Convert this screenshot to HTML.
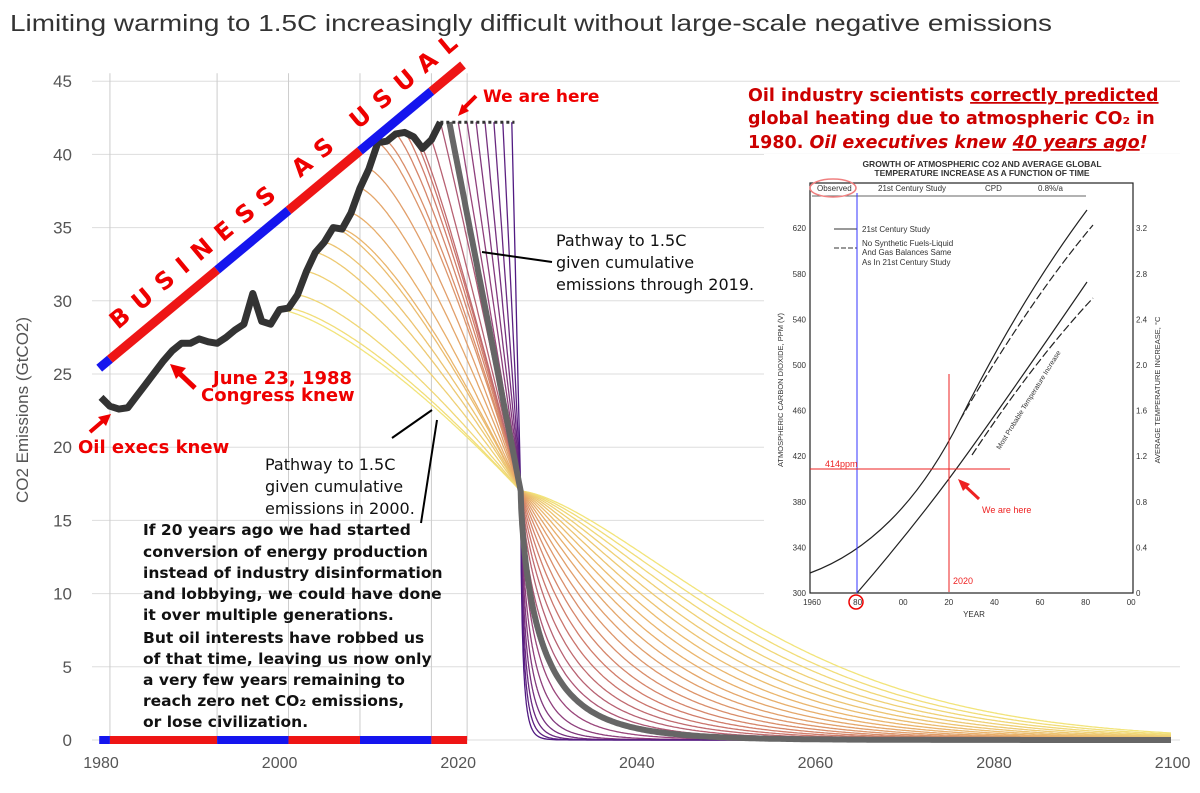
<!DOCTYPE html>
<html><head><meta charset="utf-8"><style>
body{margin:0;background:#fff;}
svg{display:block;font-family:"Liberation Sans","DejaVu Sans",sans-serif;}
.dv{font-family:"DejaVu Sans","Liberation Sans",sans-serif;}
</style></head><body>
<svg id="chart" width="1200" height="793" viewBox="0 0 1200 793">
<text x="10" y="31" font-size="23" fill="#333" textLength="1042" lengthAdjust="spacingAndGlyphs">Limiting warming to 1.5C increasingly difficult without large-scale negative emissions</text>
<g id="grid"></g>
<g id="yaxis"></g>
<g id="xaxis"></g>
<text transform="translate(28,410) rotate(-90)" text-anchor="middle" font-size="17" fill="#555">CO2 Emissions (GtCO2)</text>
<g id="paths"></g>
<g id="hist"></g>
<g id="bau"></g>
<g id="termbar"></g>
<text class="dv" transform="translate(118,330) rotate(-39.8)" font-size="24" font-weight="bold" fill="#e00" letter-spacing="10.5">BUSINESS AS USUAL</text>

<g class="dv" font-weight="bold" fill="#e00">
<text x="483" y="102" font-size="17">We are here</text>
<line x1="476" y1="96" x2="462" y2="110" stroke="#e00" stroke-width="4"/>
<polygon points="458,116 462,104 469,111" fill="#e00"/>
<text x="213" y="384" font-size="18">June 23, 1988</text>
<text x="201" y="401" font-size="18">Congress knew</text>
<line x1="195" y1="388" x2="178" y2="372" stroke="#e00" stroke-width="5"/>
<polygon points="170,364 186,368 176,379" fill="#e00"/>
<text x="78" y="453" font-size="18">Oil execs knew</text>
<line x1="90" y1="432" x2="104" y2="420" stroke="#e00" stroke-width="4"/>
<polygon points="111,414 98,417 106,426" fill="#e00"/>
</g>

<g class="dv" font-size="16" fill="#111">
<text x="556" y="246">Pathway to 1.5C</text>
<text x="556" y="268">given cumulative</text>
<text x="556" y="290">emissions through 2019.</text>
<line x1="482" y1="252" x2="552" y2="262" stroke="#000" stroke-width="2"/>
</g>
<g class="dv" font-size="16" fill="#111">
<text x="265" y="470">Pathway to 1.5C</text>
<text x="265" y="492">given cumulative</text>
<text x="265" y="514">emissions in 2000.</text>
<line x1="392" y1="438" x2="432" y2="410" stroke="#000" stroke-width="2"/>
<line x1="421" y1="523" x2="437" y2="420" stroke="#000" stroke-width="2"/>
</g>
<g class="dv" font-size="15.5" font-weight="bold" fill="#111">
<text x="143" y="535">If 20 years ago we had started</text>
<text x="143" y="557">conversion of energy production</text>
<text x="143" y="578">instead of industry disinformation</text>
<text x="143" y="599">and lobbying, we could have done</text>
<text x="143" y="620">it over multiple generations.</text>
<text x="143" y="643">But oil interests have robbed us</text>
<text x="143" y="664">of that time, leaving us now only</text>
<text x="143" y="685">a very few years remaining to</text>
<text x="143" y="706">reach zero net CO₂ emissions,</text>
<text x="143" y="727">or lose civilization.</text>
</g>

<g>
<rect x="764" y="154" width="420" height="462" fill="#fff"/>
<g class="dv" font-size="17.5" font-weight="bold" fill="#c00">
<text x="748" y="101">Oil industry scientists <tspan text-decoration="underline">correctly predicted</tspan></text>
<text x="748" y="124">global heating due to atmospheric CO₂ in</text>
<text x="748" y="148">1980.  <tspan font-style="italic">Oil executives knew <tspan text-decoration="underline">40 years ago</tspan>!</tspan></text>
</g>
<g font-size="8.5" fill="#333" font-weight="bold" text-anchor="middle">
<text x="982" y="167">GROWTH OF ATMOSPHERIC CO2 AND AVERAGE GLOBAL</text>
<text x="982" y="176">TEMPERATURE INCREASE AS A FUNCTION OF TIME</text>
</g>
<rect x="810" y="183" width="323" height="410" fill="none" stroke="#222" stroke-width="1.2"/>
<g font-size="8" fill="#333">
<text x="817" y="191">Observed</text><text x="878" y="191">21st Century Study</text><text x="985" y="191">CPD</text><text x="1038" y="191">0.8%/a</text>
<line x1="812" y1="196" x2="1086" y2="196" stroke="#333" stroke-width="0.8"/>
<line x1="834" y1="229" x2="857" y2="229" stroke="#333"/><text x="862" y="232">21st Century Study</text>
<line x1="834" y1="248" x2="857" y2="248" stroke="#333" stroke-dasharray="5 2"/><text x="862" y="246">No Synthetic Fuels-Liquid</text><text x="862" y="255">And Gas Balances Same</text><text x="862" y="265">As In 21st Century Study</text>
</g>
<ellipse cx="833" cy="188" rx="23" ry="9" fill="none" stroke="#f08080" stroke-width="1.5"/>
<g id="insetAxes" font-size="8" fill="#333"></g>
<text transform="translate(783,390) rotate(-90)" font-size="7.5" fill="#333" text-anchor="middle">ATMOSPHERIC CARBON DIOXIDE, PPM (V)</text>
<text transform="translate(1160,390) rotate(-90)" font-size="7.5" fill="#333" text-anchor="middle">AVERAGE TEMPERATURE INCREASE, °C</text>
<text x="974" y="617" font-size="8" fill="#333" text-anchor="middle">YEAR</text>
<g fill="none" stroke="#222" stroke-width="1.2">
<path d="M810,573 Q900,540 960,420 T1087,210"/>
<path d="M960,420 Q1030,300 1093,225" stroke-dasharray="8 3"/>
<path d="M857,593 Q920,520 970,450 T1087,282"/>
<path d="M972,455 Q1035,360 1093,298" stroke-dasharray="8 3"/>
</g>
<text transform="translate(1000,450) rotate(-58)" font-size="7" fill="#333">Most Probable Temperature Increase</text>
<line x1="857" y1="193" x2="857" y2="593" stroke="#33f" stroke-width="1"/>
<line x1="949" y1="374" x2="949" y2="592" stroke="#e22" stroke-width="1"/>
<line x1="810" y1="469" x2="1010" y2="469" stroke="#e22" stroke-width="1"/>
<text x="825" y="467" font-size="9" fill="#e22">414ppm</text>
<text x="953" y="584" font-size="9" fill="#e22">2020</text>
<text x="982" y="513" font-size="9" fill="#e22">We are here</text>
<line x1="979" y1="499" x2="964" y2="485" stroke="#e22" stroke-width="3"/>
<polygon points="958,479 970,484 963,491" fill="#e22"/>
<circle cx="856" cy="602" r="7" fill="none" stroke="#e00" stroke-width="1.5"/>
</g>
</svg>
<script>
const histYears=[1980,1981,1982,1983,1984,1985,1986,1987,1988,1989,1990,1991,1992,1993,1994,1995,1996,1997,1998,1999,2000,2001,2002,2003,2004,2005,2006,2007,2008,2009,2010,2011,2012,2013,2014,2015,2016,2017,2018];
const histValues=[23.4,22.8,22.6,22.7,23.5,24.3,25.1,25.9,26.6,27.1,27.1,27.4,27.2,27.1,27.5,28.0,28.4,30.5,28.6,28.4,29.4,29.5,30.4,32.0,33.3,34.0,35.0,34.9,36.0,37.7,39.0,40.8,40.9,41.4,41.5,41.2,40.4,41.0,42.2];
const pathwayStarts=[2000,2001,2002,2003,2004,2005,2006,2007,2008,2009,2010,2011,2012,2013,2014,2015,2016,2017,2018,2019,2020,2021,2022,2023,2024,2025,2026];
const plateauValue=42.2;
const crossYear=2027, crossValue=17;
const yTicks=[0,5,10,15,20,25,30,35,40,45];
const xTicks=[1980,2000,2020,2040,2060,2080,2100];
const termYears=[1979.8,1981,1993,2001,2009,2017,2021];
const termColors=["#1515ee","#ee1515","#1515ee","#ee1515","#1515ee","#ee1515"];
const insetPpm=[300,340,380,420,460,500,540,580,620];
const insetTemp=["0","0.4","0.8","1.2","1.6","2.0","2.4","2.8","3.2"];
const insetYears=["1960","80","00","20","40","60","80","00"];

const NS="http://www.w3.org/2000/svg";
const X=y=>101+(y-1980)*8.93;
const Y=v=>740-v*14.64;
function mk(tag,attrs,parent){const e=document.createElementNS(NS,tag);for(const k in attrs)e.setAttribute(k,attrs[k]);parent.appendChild(e);return e;}
const $=id=>document.getElementById(id);

yTicks.forEach(v=>{
  const l=mk('line',{x1:92,x2:1180,y1:Y(v),y2:Y(v),stroke:'#ddd','stroke-width':1},$('grid'));
  
  
  const t=mk('text',{x:72,y:Y(v)+6,'text-anchor':'end','font-size':17,fill:'#555'},$('yaxis'));
  t.textContent=v;
  
  
});
termYears.slice(1).forEach(y=>{
  const l=mk('line',{x1:X(y),x2:X(y),y1:Y(0),y2:Y(45)-8,stroke:'#ccc','stroke-width':1},$('grid'));
  
  
});
xTicks.forEach(y=>{
  const t=mk('text',{x:X(y),y:768,'text-anchor':'middle','font-size':16,fill:'#555'},$('xaxis'));
  t.textContent=y;
  
  
});

function histAt(y){const i=histYears.indexOf(y);return i>=0?histValues[i]:plateauValue;}
// pathway shape: concave descent to the crossing point, then stretched-exponential tail
function pathFn(s,E0){
  const T=crossYear-s;
  const p=1+0.4*Math.max(0,Math.min(1,(2019-s)/9));
  const q=1.5-0.8*Math.max(0,Math.min(1,(s-2000)/19));
  const r=Math.exp(-5.16+0.236*(s-2000));
  return t=>{
    const tau=t-s;
    if(tau<=T) return E0-(E0-crossValue)*Math.pow(tau/T,p);
    return crossValue*Math.exp(-r*Math.pow(tau-T,q));
  };
}
const stops=[[0,[242,228,122]],[0.3,[233,176,106]],[0.55,[208,122,106]],[0.75,[160,74,122]],[1,[80,26,130]]];
function col(f){for(let i=1;i<stops.length;i++){if(f<=stops[i][0]){const a=stops[i-1],b=stops[i];const k=(f-a[0])/(b[0]-a[0]);return 'rgb('+a[1].map((v,j)=>Math.round(v+(b[1][j]-v)*k)).join(',')+')';}}return 'rgb(80,26,130)';}
function drawPath(s,E0,stroke,sw,name){
  const f=pathFn(s,E0);
  let d='';
  const ts=[];for(let t=s;t<crossYear;t+=0.1)ts.push(t);
  ts.push(crossYear);
  for(let t=crossYear+0.02;t<=2100.01;t+=(t<crossYear+3?0.02:0.2))ts.push(t);
  ts.forEach(t=>{d+=(d?'L':'M')+X(t).toFixed(1)+','+Y(f(t)).toFixed(1);});
  const p=mk('path',{d:d,fill:'none',stroke:stroke,'stroke-width':sw},$('paths'));
  
  
}
pathwayStarts.forEach((s,i)=>{
  drawPath(s,histAt(s),col(i/(pathwayStarts.length-1)),1.3,'pathway-'+s);
});
drawPath(2019,plateauValue,'#666',6,'pathway-through-2019');
const pl=mk('line',{x1:X(2018),x2:X(2026.3),y1:Y(plateauValue),y2:Y(plateauValue),stroke:'#333','stroke-width':3,'stroke-dasharray':'3 3'},$('paths'));



let hd='';histYears.forEach((y,i)=>{hd+=(i?'L':'M')+X(y).toFixed(1)+','+Y(histValues[i]).toFixed(1);});
const hp=mk('path',{d:hd,fill:'none',stroke:'#333','stroke-width':7,'stroke-linejoin':'round'},$('hist'));



const bx0=97,by0=370,bx1=463,by1=65;
for(let i=0;i<termColors.length;i++){
  const a=Math.max(bx0,X(termYears[i])),b=Math.min(bx1,X(termYears[i+1]));
  const fa=(a-bx0)/(bx1-bx0),fb=(b-bx0)/(bx1-bx0);
  const seg=mk('line',{x1:a,y1:by0+(by1-by0)*fa,x2:b,y2:by0+(by1-by0)*fb,stroke:termColors[i],'stroke-width':9},$('bau'));
  
  
  const tb=mk('rect',{x:X(termYears[i]),y:Y(0)-4,width:X(termYears[i+1])-X(termYears[i]),height:8,fill:termColors[i]},$('termbar'));
  
  
}

insetPpm.forEach((v,i)=>{
  const y=593-i*45.6;
  const t=mk('text',{x:806,y:y+3,'text-anchor':'end'},$('insetAxes'));t.textContent=v;
  
  
  const r=mk('text',{x:1136,y:y+3},$('insetAxes'));r.textContent=insetTemp[i];
  
  
});
insetYears.forEach((v,i)=>{
  const t=mk('text',{x:812+i*45.6,y:605,'text-anchor':'middle'},$('insetAxes'));t.textContent=v;
  
  
});
</script>
</body></html>
